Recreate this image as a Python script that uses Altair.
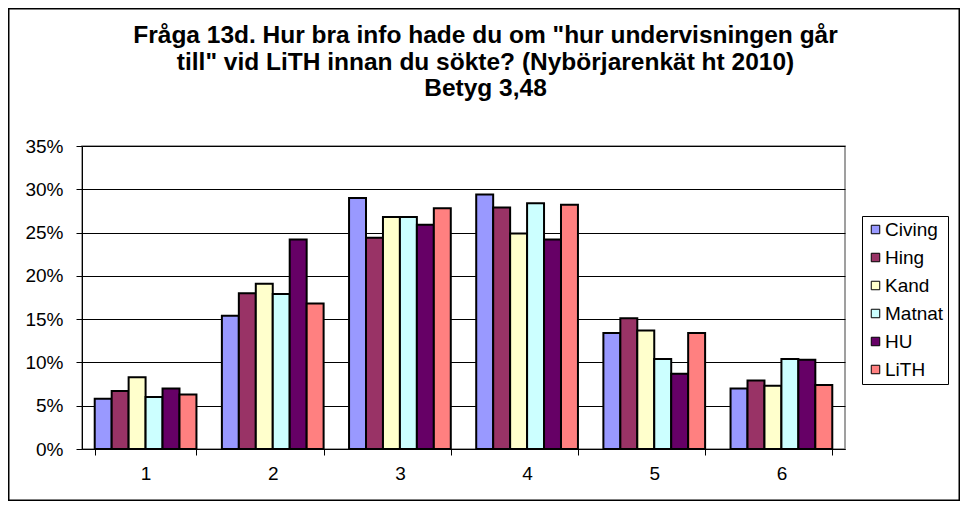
import altair as alt
import pandas as pd

groups = ["1", "2", "3", "4", "5", "6"]
series = ["Civing", "Hing", "Kand", "Matnat", "HU", "LiTH"]
colors = ["#9999FF", "#993366", "#FFFFCC", "#CCFFFF", "#660066", "#FF8080"]

civing = [5.8, 15.4, 29.0, 29.4, 13.4, 7.0]
hing = [6.7, 18.0, 24.4, 27.9, 15.1, 7.9]
kand = [8.3, 19.1, 26.8, 24.9, 13.7, 7.3]
matnat = [6.0, 17.9, 26.8, 28.4, 10.4, 10.4]
hu = [7.0, 24.2, 25.9, 24.2, 8.7, 10.3]
lith = [6.3, 16.8, 27.8, 28.2, 13.4, 7.4]

y_ticks = [0, 0.05, 0.10, 0.15, 0.20, 0.25, 0.30, 0.35]

title_lines = ["Fråga 13d. Hur bra info hade du om \"hur undervisningen går",
               "till\" vid LiTH innan du sökte? (Nybörjarenkät ht 2010)",
               "Betyg 3,48"]

rows = []
for name, vals in zip(series, [civing, hing, kand, matnat, hu, lith]):
    for g, v in zip(groups, vals):
        rows.append({"grupp": g, "serie": name, "andel": v / 100})
df = pd.DataFrame(rows)

FONT = "Liberation Sans"
W, H = 763, 303
PL, PT, PR, PB = 74, 138, 115, 52

bars = alt.Chart(df).mark_bar(stroke="black", strokeWidth=2).encode(
    x=alt.X("grupp:N", sort=groups, title=None,
            scale=alt.Scale(paddingInner=0.2, paddingOuter=0.1),
            axis=alt.Axis(labelAngle=0, labelFontSize=19, labelFont=FONT, labelColor="black",
                          labelPadding=9, tickBand="extent", tickSize=6, tickColor="black",
                          domainColor="black", domainWidth=1, grid=False)),
    xOffset=alt.XOffset("serie:N", sort=series, scale=alt.Scale(paddingInner=0, paddingOuter=0)),
    y=alt.Y("andel:Q", title=None,
            scale=alt.Scale(domain=[0, 0.35], nice=False),
            axis=alt.Axis(values=y_ticks, format=".0%", labelFontSize=19, labelFont=FONT,
                          labelColor="black", tickSize=6, tickColor="black", domainColor="black",
                          grid=True, gridColor="black", gridWidth=1, labelPadding=13)),
    color=alt.Color("serie:N", sort=series,
                    scale=alt.Scale(domain=series, range=colors),
                    legend=alt.Legend(title=None, orient="none", legendX=780, legendY=70,
                                      labelFontSize=19, labelFont=FONT, labelColor="black",
                                      symbolType="square", symbolSize=72,
                                      symbolStrokeColor="black", symbolStrokeWidth=1,
                                      symbolOpacity=1, symbolOffset=0,
                                      strokeColor="black", fillColor="white",
                                      padding=4, rowPadding=8, labelOffset=0)),
)

title = alt.Chart(pd.DataFrame({"t": [title_lines]})).mark_text(
    font=FONT, fontSize=24.5, fontWeight="bold", color="black",
    align="center", baseline="alphabetic", lineHeight=26.5,
).encode(text="t", x=alt.value(403.5), y=alt.value(-103))

border = alt.Chart(pd.DataFrame({"a": [0]})).mark_rect(
    fill=None, stroke="black", strokeWidth=1.5
).encode(
    x=alt.value(-PL + 0.75), x2=alt.value(W + PR - 0.75),
    y=alt.value(-PT + 0.75), y2=alt.value(H + PB - 0.75),
)

chart = alt.layer(bars, title, border).properties(
    width=W, height=H,
    padding={"left": PL, "top": PT, "right": PR, "bottom": PB},
    autosize=alt.AutoSizeParams(type="none"),
    background="white",
).configure_view(stroke="#808080", strokeWidth=1.5)

chart.save("out.html", embed_options={"renderer": "svg", "actions": False})
